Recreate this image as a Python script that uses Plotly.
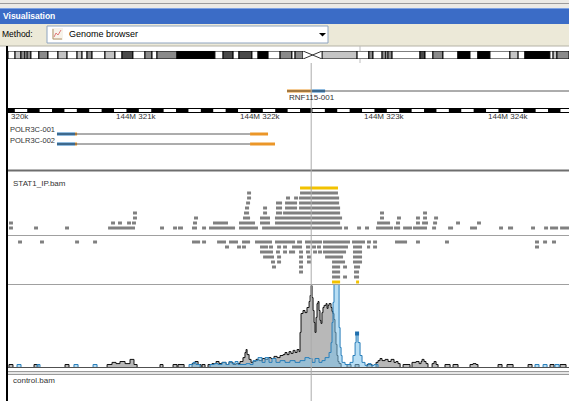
import plotly.graph_objects as go

W, H = 569, 401
FONT = "Liberation Sans, Arial, sans-serif"

# ---------------------------------------------------------------------------
# Genomic window (chromosome 1, positions relative to 144 Mb)
# ---------------------------------------------------------------------------
view_start, view_end = 320145, 324669
cursor_pos = 322590

ruler_tick_pos = [321000, 322000, 323000, 324000]
ruler_tick_text = ["144M 321k", "144M 322k", "144M 323k", "144M 324k"]
ruler_left_text = "320k"

# ---------------------------------------------------------------------------
# Chromosome ideogram (Mb)
# ---------------------------------------------------------------------------
chrom_length = 247.0
band_edges = [0, 3.1, 5.7, 7.5, 8.4, 10.1, 13.6, 17.6, 22.0, 26.0, 30.4, 32.6,
              34.8, 37.0, 42.7, 47.1, 50.2, 55.0, 60.3, 63.4, 65.6, 74.4, 91.1,
              94.7, 99.1, 101.7, 107.4, 110.1, 114.5, 119.8, 125.0, 126.4, 129.9,
              138.3, 153.7, 158.9, 160.7, 164.7, 166.4, 167.3, 169.1, 181.4,
              183.6, 187.1, 191.5, 198.1, 203.4, 206.9, 212.2, 221.0, 224.6,
              227.6, 238.6, 240.0, 241.7, 247.0]
band_stain = ["gneg", "gpos25", "gpos50", "gneg", "gpos50", "gneg", "gpos50",
              "gneg", "gpos25", "gneg", "gpos25", "gneg", "gpos50", "gneg",
              "gpos25", "gneg", "gpos75", "gneg", "gpos50", "gneg", "gpos50",
              "gpos100", "gneg", "gpos75", "gneg", "gpos75", "gneg", "gpos100",
              "gneg", "gpos50", "gneg", "gpos50", "acen", "gpos25", "gneg",
              "gpos50", "gneg", "gpos50", "gneg", "gpos50", "gneg", "gpos75",
              "gneg", "gpos50", "gneg", "gpos100", "gneg", "gpos100", "gneg",
              "gpos25", "gneg", "gpos100", "gneg", "gpos25", "gpos50"]
stain_colour = {"gneg": "#ffffff", "gpos25": "#c4c4c4", "gpos50": "#8a8a8a",
                "gpos75": "#4a4a4a", "gpos100": "#000000", "acen": "#ffffff"}

# ---------------------------------------------------------------------------
# Transcripts: (start, end) intervals
# ---------------------------------------------------------------------------
rnf115_001_span = (322395, 325500)
rnf115_001_utr = [(322395, 322597)]
rnf115_001_cds = [(322597, 322702)]

polr3c_001_span = (320540, 322097)
polr3c_001_cds = [(320540, 320686)]
polr3c_001_utr = [(320686, 320702), (322097, 322242)]

polr3c_002_span = (320540, 322097)
polr3c_002_cds = [(320540, 320686)]
polr3c_002_utr = [(320686, 320702), (322097, 322298)]

# ---------------------------------------------------------------------------
# STAT1_IP.bam packed reads, forward strand (row 0 next to the strand divider)
# ---------------------------------------------------------------------------
plus_row0 = [(320153, 320185), (320355, 320387), (320605, 320637), (320952, 321169),
             (321371, 321403), (321476, 321508), (321516, 321556), (321629, 321669),
             (321710, 321742), (321766, 321976), (322008, 322161), (322194, 322839),
             (322855, 322887), (322960, 322992), (323024, 323056), (323113, 323250),
             (323258, 323307), (323331, 323403), (323411, 323524), (323565, 323597),
             (323694, 323734), (323871, 323927), (324105, 324137), (324177, 324218),
             (324363, 324395), (324468, 324500), (324516, 324581), (324597, 324669)]
plus_row1 = [(320153, 320185), (320976, 321008), (321032, 321064), (321105, 321137),
             (321145, 321177), (321637, 321669), (321798, 321919), (322008, 322137),
             (322177, 322258), (322298, 322823), (323121, 323226), (323274, 323306),
             (323435, 323467), (323484, 323532), (323573, 323605), (323758, 323790),
             (323927, 323959)]
plus_row2 = [(321153, 321185), (321645, 321677), (322040, 322097), (322177, 322258),
             (322298, 322839), (323145, 323177), (323282, 323314), (323435, 323467),
             (323492, 323524), (323581, 323613)]
plus_row3 = [(321153, 321185), (322048, 322089), (322202, 322234), (322306, 322355),
             (322363, 322823), (323145, 323177), (323492, 323524)]
plus_row4 = [(322056, 322089), (322202, 322234), (322306, 322355), (322379, 322476),
             (322492, 322823)]
plus_row5 = [(322065, 322097), (322306, 322355), (322379, 322476), (322492, 322815)]
plus_row6 = [(322073, 322105), (322387, 322419), (322452, 322484), (322492, 322815)]
plus_row7 = [(322073, 322105), (322500, 322806)]
plus_row8 = [(322500, 322806)]

# reverse strand (row 0 next to the strand divider)
minus_row0 = [(320226, 320258), (320403, 320435), (320686, 320718), (320831, 320863),
              (321629, 321694), (321710, 321742), (321831, 321903), (321927, 322000),
              (322032, 322097), (322137, 322274), (322298, 322460), (322476, 322516),
              (322540, 322677), (322685, 322903), (322919, 323024), (323040, 323072),
              (323089, 323121), (323266, 323363), (323435, 323467), (323669, 323701),
              (324395, 324427), (324460, 324492), (324532, 324564)]
minus_row1 = [(321895, 321927), (321992, 322024), (322032, 322064), (322177, 322242),
              (322250, 322282), (322315, 322347), (322363, 322395), (322435, 322516),
              (322548, 322581), (322597, 322629), (322637, 322669), (322685, 322887),
              (322927, 323000), (323040, 323065), (323089, 323121), (324395, 324427)]
minus_row2 = [(322177, 322282), (322306, 322338), (322363, 322395), (322411, 322460),
              (322492, 322524), (322548, 322580), (322605, 322637), (322645, 322677),
              (322685, 322871), (322927, 323000)]
minus_row3 = [(322202, 322290), (322315, 322347), (322492, 322524), (322556, 322588),
              (322702, 322847), (322927, 323000)]
minus_row4 = [(322266, 322298), (322315, 322347), (322492, 322524), (322556, 322588),
              (322758, 322863), (322927, 323000)]
minus_row5 = [(322274, 322306), (322492, 322524), (322758, 322823), (322847, 322879),
              (322935, 322984)]
minus_row6 = [(322492, 322524), (322758, 322823), (322935, 322976)]
minus_row7 = [(322758, 322823), (322847, 322879), (322935, 322976)]
minus_row8 = [(322758, 322823), (322952, 322976)]

# ---------------------------------------------------------------------------
# Coverage profiles: (position, depth) step breakpoints
# ---------------------------------------------------------------------------
ip_profile = [
    (320145, 0), (320153, 1), (320185, 0), (320355, 1), (320387, 0), (320605, 1), (320637, 0),
    (320944, 1), (320984, 1.7), (321016, 1.3), (321048, 2), (321089, 1.3), (321129, 2.7),
    (321161, 1), (321186, 0),
    (321371, 1), (321395, 0), (321476, 1), (321508, 0), (321516, 1), (321565, 0),
    (321629, 1.3), (321653, 2), (321678, 1), (321702, 0), (321710, 1), (321734, 0),
    (321758, 1), (321790, 1.3), (321823, 2), (321847, 1.3), (321871, 1.7), (321903, 1),
    (321927, 1.7), (321960, 1), (321984, 1.3),
    (322016, 2), (322040, 3.3), (322056, 5), (322065, 6), (322073, 4.3), (322089, 2.7),
    (322105, 1.7),
    (322121, 2), (322145, 2.7), (322169, 2.3), (322194, 3), (322218, 2.7), (322242, 3.3),
    (322266, 3), (322290, 3.7), (322315, 3.3), (322339, 4), (322363, 4.3), (322379, 5),
    (322395, 4.3), (322411, 5.3), (322427, 4.7), (322444, 5.7), (322460, 5), (322476, 6),
    (322492, 5.3),
    (322500, 11.7), (322508, 18), (322524, 19), (322540, 18.3), (322556, 20), (322573, 22),
    (322581, 24), (322589, 27.3), (322597, 23.3), (322605, 19), (322613, 15), (322621, 11.7),
    (322629, 16.7), (322637, 21.3), (322645, 22), (322653, 19), (322661, 15.7), (322669, 14.7),
    (322677, 18.3), (322685, 20), (322694, 20.7), (322710, 21.3), (322718, 19.7),
    (322726, 20.7), (322734, 21.3), (322750, 20), (322758, 18.7), (322766, 18), (322774, 16),
    (322782, 11.7), (322790, 7.7), (322798, 4), (322806, 2), (322815, 1.3), (322831, 0),
    (322879, 1), (322911, 0), (322944, 1), (322976, 0), (323040, 1), (323081, 0),
    (323113, 1.7), (323129, 2.3), (323145, 3), (323161, 2.3), (323186, 2.7), (323210, 2),
    (323234, 2.7), (323258, 1.7), (323274, 2), (323290, 1.3), (323307, 0), (323331, 1),
    (323387, 0), (323403, 1.7), (323436, 2), (323460, 1.3), (323476, 2), (323484, 2.7),
    (323500, 2), (323516, 1.3), (323532, 0), (323565, 1.3), (323581, 2), (323597, 1),
    (323613, 0),
    (323669, 1), (323710, 0), (323734, 1), (323774, 0), (323871, 1), (323895, 1.3),
    (323919, 1), (323935, 0), (324097, 1), (324129, 0), (324169, 1), (324218, 0),
    (324339, 1), (324371, 0), (324516, 1), (324548, 0), (324597, 1), (324645, 0),
]

control_profile = [
    (320145, 0), (320218, 1), (320250, 0), (320379, 1), (320403, 0), (320677, 1), (320710, 0),
    (320831, 1), (320863, 0),
    (321605, 1), (321637, 1.7), (321661, 1), (321694, 0),
    (321774, 1), (321807, 1.3), (321839, 1), (321871, 1.7), (321903, 1), (321927, 2),
    (321952, 1.3), (321976, 2), (322000, 1), (322065, 1.3), (322097, 1),
    (322121, 2.3), (322161, 3.3), (322194, 1.7), (322218, 3.3), (322250, 1.7), (322274, 3),
    (322306, 1.7), (322339, 2.3), (322379, 1.7), (322419, 2.3), (322460, 1.7), (322500, 2.3),
    (322540, 3.3), (322573, 3), (322597, 1.7), (322621, 3), (322653, 1.7), (322677, 2.3),
    (322702, 3.3), (322734, 5), (322750, 8.3), (322758, 15), (322766, 21.7), (322774, 30),
    (322815, 13.3), (322823, 6.7), (322831, 4), (322839, 1.7), (322863, 1), (322903, 1.7),
    (322927, 4), (322944, 8.3), (322952, 11.3), (322968, 8.3), (322984, 4), (323000, 1.7),
    (323024, 0.7), (323048, 1.3), (323073, 0.7), (323097, 1), (323129, 0),
    (324395, 1), (324427, 0), (324460, 1), (324492, 0), (324556, 1), (324589, 0),
]
control_peak = (322960, 11.3)

# ---------------------------------------------------------------------------
# Helpers for pixel-based layout of the browser frame
# ---------------------------------------------------------------------------
def fx(px):
    return px / W


def fy(py):
    return 1 - py / H


shapes = []
annotations = []


def rect(x0, y0, x1, y1, fill, line=None, lw=1, layer="below"):
    shapes.append(dict(type="rect", xref="paper", yref="paper",
                       x0=fx(x0), x1=fx(x1), y0=fy(y1), y1=fy(y0),
                       fillcolor=fill, layer=layer,
                       line=dict(color=line or fill, width=lw if line else 0)))


def hline(py, x0, x1, color, width=1, layer="above"):
    shapes.append(dict(type="line", xref="paper", yref="paper",
                       x0=fx(x0), x1=fx(x1), y0=fy(py), y1=fy(py), layer=layer,
                       line=dict(color=color, width=width)))


def vline(px, y0, y1, color, width=1, layer="above"):
    shapes.append(dict(type="line", xref="paper", yref="paper",
                       x0=fx(px), x1=fx(px), y0=fy(y0), y1=fy(y1), layer=layer,
                       line=dict(color=color, width=width)))


def label(text, px, py, size=8, color="#333333", bold=False, anchor="left", family=FONT):
    annotations.append(dict(text=f"<b>{text}</b>" if bold else text,
                            xref="paper", yref="paper", x=fx(px), y=fy(py),
                            xanchor=anchor, yanchor="middle", showarrow=False,
                            font=dict(family=family, size=size, color=color)))


TRACK_LEFT = 8

# ---------------------------------------------------------------------------
# Window chrome: title bar, toolbar with the method chooser
# ---------------------------------------------------------------------------
rect(0, 0, W, 8, "#ecebe6")
hline(3.5, 0, W, "#9c9c9c", layer="below")
rect(0, 8, W, 24, "#3b6cc6")
hline(8.5, 0, W, "#7ea3e3", layer="below")
label("Visualisation", 1, 16, size=8.5, color="#ffffff", bold=True)
rect(0, 24, W, 46, "#ece9d8")
hline(46, 0, W, "#b5b2a6", layer="below")
label("Method:", 0, 34, size=8.5, color="#000000")
rect(47, 26, 328, 43, "#ffffff", line="#8ea4c0")
# chart icon inside the chooser
rect(52, 28, 63, 40, "#f7f3ea")
shapes.append(dict(type="path", xref="paper", yref="paper",
                   path=f"M {fx(53)},{fy(29)} L {fx(53)},{fy(39)} L {fx(62)},{fy(39)}",
                   line=dict(color="#b0936a", width=1)))
shapes.append(dict(type="path", xref="paper", yref="paper",
                   path=(f"M {fx(54)},{fy(37)} L {fx(56)},{fy(33)} L {fx(58)},{fy(35)} "
                         f"L {fx(61)},{fy(30)}"),
                   line=dict(color="#e07a7a", width=1)))
label("Genome browser", 67, 34, size=9, color="#000000")
shapes.append(dict(type="path", xref="paper", yref="paper",
                   path=(f"M {fx(319)},{fy(33)} L {fx(326)},{fy(33)} "
                         f"L {fx(322.5)},{fy(36.5)} Z"),
                   fillcolor="#000000", line=dict(width=0)))

# panel border and splitter
rect(6, 46, 8, H, "#000000", layer="above")
vline(360, 46, 63, "#bdbdbd", layer="below")

# track separators
hline(108.5, TRACK_LEFT, W, "#000000")
hline(112.5, TRACK_LEFT, W, "#000000")
hline(170.5, TRACK_LEFT, W, "#6e6e6e", width=2)
hline(235.5, TRACK_LEFT, W, "#a0a0a0")
hline(284.5, TRACK_LEFT, W, "#a0a0a0")
hline(367.5, TRACK_LEFT, W, "#505050")
rect(TRACK_LEFT, 371, W, 375, "#e6e6e6", layer="above")
hline(371.5, TRACK_LEFT, W, "#9a9a9a")
hline(374.5, TRACK_LEFT, W, "#9a9a9a")

# cursor position
shapes.append(dict(type="line", xref="x", yref="paper", x0=cursor_pos, x1=cursor_pos,
                   y0=fy(H), y1=fy(63), layer="above",
                   line=dict(color="#ababab", width=1)))

label("STAT1_IP.bam", 11, 183)
label("control.bam", 11, 380)

fig = go.Figure()

# ---------------------------------------------------------------------------
# Ideogram
# ---------------------------------------------------------------------------
band_start = band_edges[:-1]
band_width = [b - a for a, b in zip(band_edges[:-1], band_edges[1:])]
fig.add_trace(go.Bar(
    y=[0] * len(band_start), x=band_width, base=band_start, orientation="h", width=1,
    marker=dict(color=[stain_colour[s] for s in band_stain],
                line=dict(color="#000000",
                          width=[0 if s == "acen" else 1 for s in band_stain])),
    xaxis="x2", yaxis="y5", hoverinfo="skip"))
ci = band_stain.index("acen")
c0, c1 = band_edges[ci], band_edges[ci + 1]
fig.add_trace(go.Scatter(
    x=[c0, c1, None, c0, c1], y=[-0.5, 0.5, None, 0.5, -0.5], mode="lines",
    line=dict(color="#333333", width=1), xaxis="x2", yaxis="y5", hoverinfo="skip"))

# ---------------------------------------------------------------------------
# Ruler (alternating 100 bp blocks)
# ---------------------------------------------------------------------------
block_starts = [s for s in range((view_start // 100) * 100, view_end + 100, 100)
                if (s // 100) % 2 == 1]
fig.add_trace(go.Bar(
    y=[0.5] * len(block_starts), x=[100] * len(block_starts), base=block_starts,
    orientation="h", width=1, marker=dict(color="#000000", line=dict(width=0)),
    xaxis="x", yaxis="y7", hoverinfo="skip"))
for pos, txt in zip(ruler_tick_pos, ruler_tick_text):
    annotations.append(dict(text=txt, xref="x", yref="paper", x=pos, y=fy(117),
                            xanchor="left", yanchor="middle", showarrow=False,
                            font=dict(family=FONT, size=8, color="#333333")))
label(ruler_left_text, 9, 117)

# ---------------------------------------------------------------------------
# Transcripts
# ---------------------------------------------------------------------------
UTR_COLOUR = "#eb9628"
CDS_COLOUR = "#2279c0"


def add_transcript(span, cds, utr, lane, yaxis):
    fig.add_trace(go.Scatter(x=list(span), y=[lane, lane], mode="lines",
                             line=dict(color="#5a5a5a", width=1),
                             xaxis="x", yaxis=yaxis, hoverinfo="skip"))
    for parts, colour in ((cds, CDS_COLOUR), (utr, UTR_COLOUR)):
        fig.add_trace(go.Bar(
            y=[lane] * len(parts), x=[b - a for a, b in parts], base=[a for a, _ in parts],
            orientation="h", width=0.3, marker=dict(color=colour, line=dict(width=0)),
            xaxis="x", yaxis=yaxis, hoverinfo="skip"))


add_transcript(rnf115_001_span, rnf115_001_cds, rnf115_001_utr, 0, "y4")
add_transcript(polr3c_001_span, polr3c_001_cds, polr3c_001_utr, 0, "y6")
add_transcript(polr3c_002_span, polr3c_002_cds, polr3c_002_utr, 1, "y6")

annotations.append(dict(text="RNF115-001", xref="x", yref="paper", x=rnf115_001_span[0],
                        y=fy(97.5), xanchor="left", yanchor="middle", showarrow=False,
                        font=dict(family=FONT, size=8, color="#333333")))
for name, span, py in (("POLR3C-001", polr3c_001_span, 129),
                       ("POLR3C-002", polr3c_002_span, 140)):
    annotations.append(dict(text=name, xref="x", yref="paper", x=span[0], y=fy(py),
                            xanchor="right", yanchor="middle", showarrow=False,
                            font=dict(family=FONT, size=7.5, color="#333333")))

# ---------------------------------------------------------------------------
# Packed reads
# ---------------------------------------------------------------------------
READ_GREY = "#808080"
OVERFLOW_YELLOW = "#f2c200"
plus_rows = [plus_row0, plus_row1, plus_row2, plus_row3, plus_row4,
             plus_row5, plus_row6, plus_row7, plus_row8]
minus_rows = [minus_row0, minus_row1, minus_row2, minus_row3, minus_row4,
              minus_row5, minus_row6, minus_row7, minus_row8]


def add_reads(rows, yaxis):
    ys, bases, lens, cols = [], [], [], []
    last = len(rows) - 1
    for r, row in enumerate(rows):
        for a, b in row:
            ys.append(r)
            bases.append(a)
            lens.append(b - a)
            cols.append(OVERFLOW_YELLOW if r == last else READ_GREY)
    fig.add_trace(go.Bar(y=ys, x=lens, base=bases, orientation="h", width=0.6,
                         marker=dict(color=cols, line=dict(width=0)),
                         xaxis="x", yaxis=yaxis, hoverinfo="skip"))


add_reads(plus_rows, "y")
add_reads(minus_rows, "y2")

# ---------------------------------------------------------------------------
# Coverage graphs
# ---------------------------------------------------------------------------
ip_pos = [p for p, _ in ip_profile]
ip_depth = [d for _, d in ip_profile]
ctl_pos = [p for p, _ in control_profile]
ctl_depth = [d for _, d in control_profile]

fig.add_trace(go.Scatter(x=ip_pos, y=ip_depth, mode="lines", line_shape="hv",
                         fill="tozeroy", fillcolor="#b8b8b8",
                         line=dict(color="#111111", width=1),
                         xaxis="x", yaxis="y3", hoverinfo="skip"))
fig.add_trace(go.Scatter(x=ctl_pos, y=ctl_depth, mode="lines", line_shape="hv",
                         fill="tozeroy", fillcolor="rgba(125,195,235,0.55)",
                         line=dict(color="#2a7fba", width=1),
                         xaxis="x", yaxis="y3", hoverinfo="skip"))
fig.add_trace(go.Scatter(x=[control_peak[0]], y=[control_peak[1]], mode="markers",
                         marker=dict(symbol="square", size=4, color="#1f6fae"),
                         xaxis="x", yaxis="y3", hoverinfo="skip"))

# ---------------------------------------------------------------------------
# Axes
# ---------------------------------------------------------------------------
hidden = dict(visible=False, fixedrange=True, showgrid=False, zeroline=False)
x_dom = [fx(TRACK_LEFT), 1]

fig.update_layout(
    width=W, height=H, margin=dict(l=0, r=0, t=0, b=0),
    paper_bgcolor="#ffffff", plot_bgcolor="rgba(0,0,0,0)",
    showlegend=False, barmode="overlay",
    xaxis=dict(domain=x_dom, range=[view_start, view_end], anchor="y3", **hidden),
    xaxis2=dict(domain=x_dom, range=[0, chrom_length], anchor="y5", **hidden),
    yaxis=dict(domain=[fy(233), fy(183)], range=[-1, 9], anchor="x", **hidden),
    yaxis2=dict(domain=[fy(287), fy(237)], range=[9, -1], anchor="x", **hidden),
    yaxis3=dict(domain=[fy(367.5), fy(284.5)], range=[0, 83 / 3], anchor="x", **hidden),
    yaxis4=dict(domain=[fy(106), fy(62)], range=[-1.5, 2.9], anchor="x", **hidden),
    yaxis5=dict(domain=[fy(59), fy(51)], range=[-0.5, 0.5], anchor="x2", **hidden),
    yaxis6=dict(domain=[fy(170), fy(113)], range=[3.6, -2.1], anchor="x", **hidden),
    yaxis7=dict(domain=[fy(112.5), fy(108.5)], range=[0, 1], anchor="x", **hidden),
    shapes=shapes, annotations=annotations,
)

fig.write_html("out.html", config={"displayModeBar": False})
